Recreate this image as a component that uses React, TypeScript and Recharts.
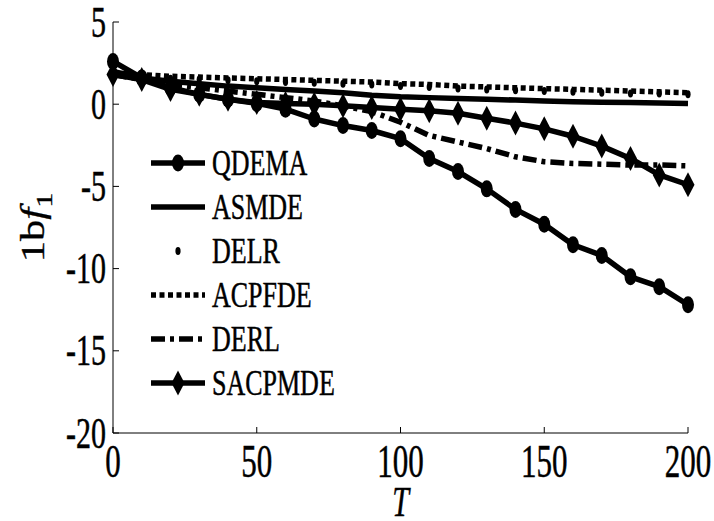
import React from 'react';
import { LineChart, Line, XAxis, YAxis, Legend } from 'recharts';

const T = [0, 10, 20, 30, 40, 50, 60, 70, 80, 90, 100, 110, 120, 130, 140, 150, 160, 170, 180, 190, 200];
const QDEMA = [2.6, 1.6, 1.0, 0.6, 0.3, 0.05, -0.3, -0.9, -1.3, -1.6, -2.1, -3.3, -4.1, -5.15, -6.4, -7.3, -8.55, -9.2, -10.5, -11.1, -12.2];
const ASMDE = [2.0, 1.6, 1.4, 1.25, 1.1, 1.0, 0.9, 0.8, 0.7, 0.55, 0.45, 0.4, 0.35, 0.3, 0.25, 0.2, 0.15, 0.12, 0.1, 0.08, 0.05];
const DELR = [1.75, 1.65, 1.55, 1.5, 1.45, 1.4, 1.35, 1.3, 1.25, 1.2, 1.1, 1.05, 0.95, 0.9, 0.85, 0.8, 0.75, 0.7, 0.65, 0.65, 0.6];
const ACPFDE = [1.9, 1.8, 1.7, 1.65, 1.6, 1.55, 1.5, 1.45, 1.4, 1.35, 1.25, 1.2, 1.1, 1.05, 1.0, 0.95, 0.9, 0.85, 0.8, 0.75, 0.7];
const DERL = [1.8, 1.5, 1.2, 1.0, 0.8, 0.6, 0.4, 0.2, -0.1, -0.45, -1.1, -1.9, -2.3, -2.7, -3.2, -3.5, -3.6, -3.65, -3.7, -3.7, -3.75];
const SACPMDE = [1.8, 1.5, 0.9, 0.6, 0.3, 0.1, 0.05, 0, -0.1, -0.2, -0.3, -0.4, -0.55, -0.85, -1.15, -1.5, -1.95, -2.55, -3.3, -4.3, -4.9];

const X_TICKS = [0, 50, 100, 150, 200];
const Y_TICKS = [5, 0, -5, -10, -15, -20];

const data = T.map((t, i) => ({
  t,
  QDEMA: QDEMA[i],
  ASMDE: ASMDE[i],
  DELR: DELR[i],
  ACPFDE: ACPFDE[i],
  DERL: DERL[i],
  SACPMDE: SACPMDE[i],
}));

const FONT = '"Liberation Serif", "Times New Roman", "DejaVu Serif", serif';
const W = 5.5; // line width
const textStyle = { fontFamily: FONT, fill: '#000', stroke: '#000', strokeWidth: 0.35 };

type Marker = 'circle' | 'diamond' | 'dot' | 'none';

const SERIES: { key: string; dash?: string; line: boolean; marker: Marker }[] = [
  { key: 'QDEMA', line: true, marker: 'circle' },
  { key: 'ASMDE', line: true, marker: 'none' },
  { key: 'DELR', line: false, marker: 'dot' },
  { key: 'ACPFDE', line: true, dash: '5 3.5', marker: 'none' },
  { key: 'DERL', line: true, dash: '14 5 4 5', marker: 'none' },
  { key: 'SACPMDE', line: true, marker: 'diamond' },
];

function drawMarker(kind: Marker, cx: number, cy: number, key?: any) {
  if (kind === 'circle') return <ellipse key={key} cx={cx} cy={cy} rx={6} ry={8.5} fill="#000" />;
  if (kind === 'diamond')
    return <path key={key} d={`M${cx},${cy - 12.5} L${cx + 6.5},${cy} L${cx},${cy + 12.5} L${cx - 6.5},${cy} Z`} fill="#000" />;
  if (kind === 'dot') return <ellipse key={key} cx={cx} cy={cy} rx={2.6} ry={4} fill="#000" />;
  return <g key={key} />;
}

const LeftTick = (props: any) => {
  const { x, y, payload } = props;
  return (
    <g>
      <line x1={x} y1={y} x2={x + 6} y2={y} stroke="#000" strokeWidth={1} />
      <text
        transform={`translate(${x - 7},${y + 14.5}) scale(1,1.45)`}
        textAnchor="end"
        fontSize={30}
        style={textStyle}
      >
        {payload.value}
      </text>
    </g>
  );
};

const BottomTick = (props: any) => {
  const { x, y, payload } = props;
  return (
    <g>
      <line x1={x} y1={y} x2={x} y2={y - 6} stroke="#000" strokeWidth={1} />
      <text
        transform={`translate(${x},${y + 44}) scale(1,1.48)`}
        textAnchor="middle"
        fontSize={31}
        style={textStyle}
      >
        {payload.value}
      </text>
    </g>
  );
};

const RightTick = (props: any) => {
  const { x, y } = props;
  return <line x1={x - 6} y1={y} x2={x} y2={y} stroke="#000" strokeWidth={1} />;
};

const TopTick = (props: any) => {
  const { x, y } = props;
  return <line x1={x} y1={y} x2={x} y2={y + 6} stroke="#000" strokeWidth={1} />;
};

const YLabel = (props: any) => {
  const vb = props.viewBox || { x: 0, y: 22, width: 113, height: 411 };
  const cy = vb.y + vb.height / 2;
  const cx = 44;
  return (
    <text
      transform={`translate(${cx},${cy}) rotate(-90) scale(1.25,1)`}
      textAnchor="middle"
      fontSize={34}
      style={textStyle}
    >
      <tspan>1b</tspan>
      <tspan fontStyle="italic">f</tspan>
      <tspan fontSize={24} dy={8}>1</tspan>
    </text>
  );
};

const XLabel = (props: any) => {
  const vb = props.viewBox || { x: 113, y: 433, width: 575, height: 88 };
  const cx = vb.x + vb.width / 2;
  return (
    <text
      transform={`translate(${cx},${516}) scale(1,1.4)`}
      textAnchor="middle"
      fontStyle="italic"
      fontSize={30}
      style={textStyle}
    >
      T
    </text>
  );
};

const LegendBox = () => {
  const rowH = 44;
  return (
    <svg width={260} height={270}>
      {SERIES.map((s, i) => {
        const cy = 23 + i * rowH;
        return (
          <g key={s.key}>
            {s.line && (
              <line x1={6} y1={cy} x2={60} y2={cy} stroke="#000" strokeWidth={W} strokeDasharray={s.dash} />
            )}
            {drawMarker(s.marker, 33, cy)}
            <text
              transform={`translate(67,${cy + 11.5}) scale(1,1.35)`}
              fontSize={26}
              style={textStyle}
            >
              {s.key}
            </text>
          </g>
        );
      })}
    </svg>
  );
};

export default function App() {
  return (
    <div style={{ position: 'fixed', left: 0, top: 0, width: 714, height: 521, background: '#fff' }}>
      <LineChart width={714} height={521} data={data} margin={{ top: 22, right: 26, bottom: 0, left: 0 }}>
        <XAxis
          dataKey="t"
          type="number"
          domain={[0, 200]}
          ticks={X_TICKS}
          height={88}
          tickLine={false}
          tickSize={0}
          tickMargin={0}
          tick={<BottomTick />}
          axisLine={{ stroke: '#000', strokeWidth: 1 }}
          label={<XLabel />}
        />
        <XAxis
          xAxisId="top"
          orientation="top"
          type="number"
          domain={[0, 200]}
          ticks={X_TICKS}
          height={0}
          tickLine={false}
          tickSize={0}
          tickMargin={0}
          tick={<TopTick />}
          axisLine={{ stroke: '#000', strokeWidth: 1 }}
        />
        <YAxis
          type="number"
          domain={[-20, 5]}
          ticks={Y_TICKS}
          width={113}
          tickLine={false}
          tickSize={0}
          tickMargin={0}
          tick={<LeftTick />}
          axisLine={{ stroke: '#000', strokeWidth: 1 }}
          label={<YLabel />}
          allowDataOverflow
        />
        <YAxis
          yAxisId="right"
          orientation="right"
          type="number"
          domain={[-20, 5]}
          ticks={Y_TICKS}
          width={0}
          tickLine={false}
          tickSize={0}
          tickMargin={0}
          tick={<RightTick />}
          axisLine={{ stroke: '#000', strokeWidth: 1 }}
        />
        {SERIES.map((s) => (
          <Line
            key={s.key}
            dataKey={s.key}
            type="linear"
            stroke={s.line ? '#000' : 'none'}
            strokeWidth={W}
            strokeDasharray={s.dash}
            strokeLinejoin="round"
            dot={(p: any) => drawMarker(s.marker, p.cx, p.cy, `${s.key}-${p.index}`)}
            activeDot={false}
            isAnimationActive={false}
          />
        ))}
        <Legend
          layout="vertical"
          align="center"
          verticalAlign="middle"
          wrapperStyle={{ left: 145, top: 140, width: 260, height: 270 }}
          content={<LegendBox />}
        />
      </LineChart>
    </div>
  );
}
